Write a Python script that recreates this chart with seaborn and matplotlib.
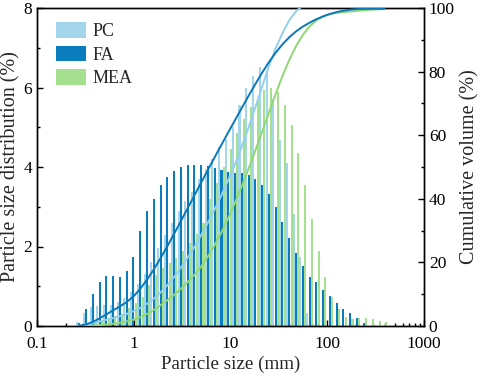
import numpy as np
import pandas as pd
import matplotlib
matplotlib.use("Agg")
import matplotlib.pyplot as plt
import seaborn as sns
from matplotlib.ticker import FixedLocator, FuncFormatter, MultipleLocator, LogLocator, NullFormatter
from matplotlib.patches import Patch

# Bin centre sizes (mm)
sizes = [0.2735, 0.3214, 0.3776, 0.4436, 0.5212, 0.6124, 0.7194, 0.8453, 0.9931, 1.167,
         1.371, 1.611, 1.892, 2.223, 2.612, 3.069, 3.606, 4.236, 4.977, 5.848,
         6.871, 8.072, 9.484, 11.14, 13.09, 15.38, 18.07, 21.23, 24.95, 29.31,
         34.43, 40.46, 47.53, 55.85, 65.61, 77.09, 90.57, 106.4, 125.0, 146.9,
         172.6, 202.8, 238.2, 279.9, 328.9, 386.4]

pc = [0.11, 0.32, 0.49, 0.50, 0.53, 0.53, 0.60, 0.70, 0.85, 1.05,
      1.30, 1.60, 1.95, 2.30, 2.60, 2.90, 3.15, 3.38, 3.69, 3.95,
      4.20, 4.50, 4.70, 5.01, 5.56, 5.98, 6.30, 6.52, 6.40, 5.70,
      4.68, 4.09, 2.83, 1.74, 0.32, 0.0, 0.0, 0.0, 0.0, 0.0,
      0.0, 0.0, 0.0, 0.0, 0.0, 0.0]

fa = [0.07, 0.43, 0.80, 1.10, 1.26, 1.26, 1.24, 1.39, 1.73, 2.40,
      2.90, 3.20, 3.55, 3.76, 3.90, 3.99, 4.04, 4.05, 4.04, 4.03,
      3.97, 3.92, 3.88, 3.84, 3.84, 3.80, 3.71, 3.55, 3.32, 2.99,
      2.61, 2.22, 1.84, 1.51, 1.23, 1.10, 0.90, 0.75, 0.59, 0.44,
      0.32, 0.19, 0.07, 0.0, 0.0, 0.0]

mea = [0.0, 0.02, 0.08, 0.15, 0.20, 0.25, 0.30, 0.45, 0.57, 0.74,
       1.03, 1.28, 1.45, 1.58, 1.70, 1.89, 2.10, 2.31, 2.58, 3.20,
       3.60, 4.00, 4.45, 4.85, 5.20, 5.50, 5.73, 5.94, 5.98, 5.89,
       5.56, 5.06, 4.34, 3.55, 2.68, 1.89, 1.23, 0.74, 0.42, 0.23,
       0.17, 0.19, 0.19, 0.17, 0.13, 0.09]

series_names = ["PC", "FA", "MEA"]
colors = {"PC": "#a3d6ec", "FA": "#0a7dbf", "MEA": "#a4e08e"}
line_colors = {"PC": "#95cfe9", "FA": "#0a78b8", "MEA": "#8fd873"}

x_ticks = [0.1, 1, 10, 100, 1000]
left_ticks = [0, 2, 4, 6, 8]
right_ticks = [0, 20, 40, 60, 80, 100]

sns.set_theme(style="ticks")
plt.rcParams["font.family"] = ["Liberation Serif", "DejaVu Serif"]

fig = plt.figure(figsize=(4.84, 3.86), dpi=100)
ax = fig.add_axes([37 / 484, 1 - 326 / 386, (424 - 37) / 484, (326 - 8) / 386])
ax.set_xscale("log")

values = {"PC": pc, "FA": fa, "MEA": mea}
s = np.array(sizes)
logstep = 0.07
bw = logstep * 0.30
offsets = {"PC": -0.34 * logstep, "FA": 0.0, "MEA": 0.34 * logstep}
for name in ["PC", "MEA", "FA"]:
    off = offsets[name]
    left = s * 10 ** (off - bw / 2)
    right = s * 10 ** (off + bw / 2)
    ax.bar(left, values[name], width=right - left, align="edge",
           color=colors[name], edgecolor="none", linewidth=0, zorder=2,
           antialiased=False)

# cumulative curves on right axis
ax2 = ax.twinx()
rows = []
for name in series_names:
    cum = np.cumsum(values[name])
    for xv, cv in zip(sizes, cum):
        rows.append({"size": xv, "cum": cv, "material": name})
cdf = pd.DataFrame(rows)
for name in ["MEA", "PC", "FA"]:
    sub = cdf[cdf["material"] == name]
    sns.lineplot(data=sub, x="size", y="cum", ax=ax2, color=line_colors[name],
                 linewidth=1.4, legend=False, zorder=3)

ax.set_xlim(0.1, 1000)
ax.set_ylim(0, 8)
ax2.set_ylim(0, 100)
ax.xaxis.set_major_locator(FixedLocator(x_ticks))
ax.xaxis.set_major_formatter(FuncFormatter(lambda v, p: f"{v:g}"))
ax.xaxis.set_minor_locator(LogLocator(base=10, subs=np.arange(2, 10)))
ax.xaxis.set_minor_formatter(NullFormatter())
ax.yaxis.set_major_locator(FixedLocator(left_ticks))
ax.yaxis.set_minor_locator(MultipleLocator(1))
ax.tick_params(axis="both", which="both", direction="in", labelsize=12.5,
               colors="black", width=1)
ax.tick_params(which="major", length=4)
ax.tick_params(which="minor", length=2.5)
ax.tick_params(axis="x", which="both", top=False, pad=7)
ax.tick_params(axis="y", which="both", right=False)
ax.set_xlabel("Particle size (mm)", fontsize=13.7, labelpad=3)
ax.set_ylabel("Particle size distribution (%)", fontsize=14.5, labelpad=2)

ax2.yaxis.set_major_locator(FixedLocator(right_ticks))
ax2.yaxis.set_minor_locator(MultipleLocator(10))
ax2.tick_params(axis="y", which="both", direction="in", labelsize=12.5, colors="black", width=1)
ax2.tick_params(axis="y", which="major", length=4)
ax2.tick_params(axis="y", which="minor", length=2.5)
ax2.tick_params(axis="x", which="both", top=False, bottom=False, labeltop=False)
ax2.set_xlabel("")
ax2.set_ylabel("Cumulative volume (%)", fontsize=14.5, labelpad=4)
for a in (ax, ax2):
    for sp in a.spines.values():
        sp.set_color("black")
        sp.set_linewidth(1.0)

handles = [Patch(facecolor=colors[n], edgecolor="none", label=n) for n in series_names]
ax.legend(handles=handles, loc="upper left", bbox_to_anchor=(0.048, 0.956),
          frameon=False, fontsize=13, handlelength=1.7, handleheight=0.95,
          handletextpad=0.35, labelspacing=0.31, borderpad=0, borderaxespad=0)

fig.savefig("out.png", dpi=100)
